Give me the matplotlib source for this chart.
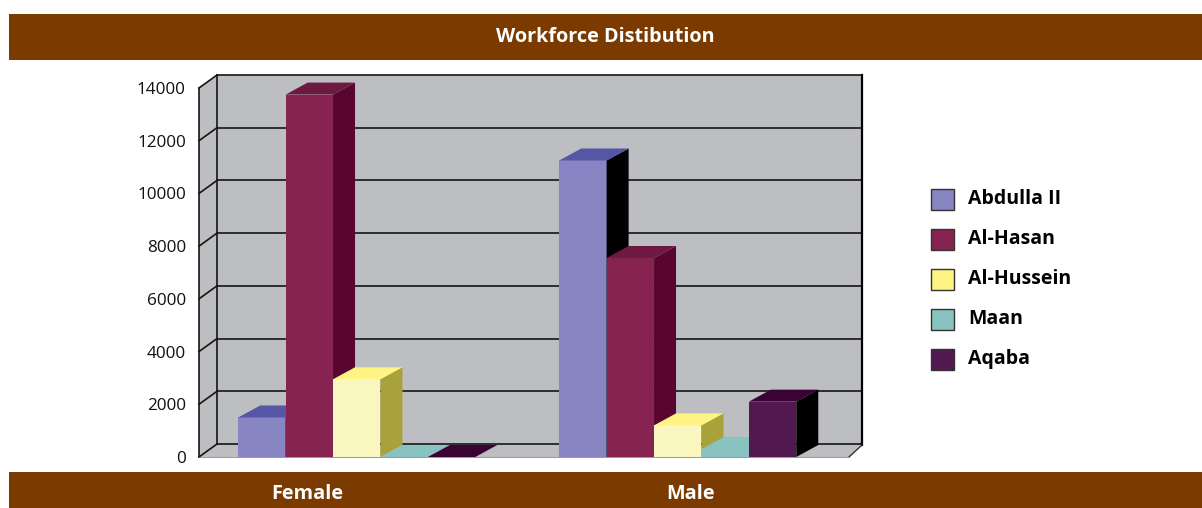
import matplotlib
matplotlib.use("Agg")
import matplotlib.pyplot as plt
from matplotlib.patches import Polygon, Rectangle
from matplotlib.lines import Line2D
import numpy as np

# ---------------- data ----------------
title = "Workforce Distibution"
categories = ["Female", "Male"]
series = ["Abdulla II", "Al-Hasan", "Al-Hussein", "Maan", "Aqaba"]
abdulla = [1500, 11250]
al_hasan = [13750, 7550]
al_hussein = [2950, 1200]
maan = [0, 300]
aqaba = [0, 2100]
values = [abdulla, al_hasan, al_hussein, maan, aqaba]
yticks = [0, 2000, 4000, 6000, 8000, 10000, 12000, 14000]

# ---------------- styles ----------------
front_c = ["#8786C2", "#872351", "#FAF6C0", "#88C2C1", "#521850"]
top_c = ["#5556A6", "#6E1941", "#FFF383", "#88C2C1", "#3A0334"]
side_c = ["#000000", "#58052F", "#A9A13A", "#88C2C1", "#000000"]
legend_c = ["#8786C2", "#872351", "#FFF383", "#88C2C1", "#521850"]
brown = "#7B3A00"
wall = "#BDBEC1"
font = "Open Sans"

W, H = 1202, 508
fig = plt.figure(figsize=(W / 100, H / 100), dpi=100)
fig.patch.set_facecolor("white")

def fy(y_img):
    return H - y_img

# axes = front plane of the 3D box
ax = fig.add_axes([199 / W, (H - 457) / H, 650 / W, 369 / H])
ax.set_xlim(-0.4914, 1.5335)
ax.set_ylim(0, 14000)
ax.patch.set_visible(False)
for s in ax.spines.values():
    s.set_visible(False)
ax.set_xticks([])
ax.set_yticks(yticks)
ax.set_yticklabels([str(t) for t in yticks], fontfamily=font, fontsize=12.3, color="#111111")
ax.tick_params(axis="y", length=0, pad=9.5)

bdx, bdy = 22, 12          # bar depth (px)
ldx, ldy = 18, 13          # wall depth at left
rdx, rdy = 13, 12          # wall depth at right

T = ax.transData
x0, x1 = ax.get_xlim()
fl = T.transform((x0, 0))
fr = T.transform((x1, 0))
tl = T.transform((x0, 14000))
bl = fl + [ldx, ldy]
br = fr + [rdx, rdy]
tbl = tl + [ldx, ldy]
tbr = np.array([br[0], tbl[1]])

def addpoly(pts, fc, z, ec="none", lw=0):
    p = Polygon(pts, closed=True, facecolor=fc, edgecolor=ec, linewidth=lw,
                transform=None, clip_on=False, zorder=z)
    ax.add_artist(p)

# walls and floor
addpoly([tbl, tbr, br, bl], wall, 1)
addpoly([tl, tbl, bl, fl], wall, 1)
addpoly([fl, fr, br, bl], wall, 1)

def addline(xs, ys, z=2, lw=1.2, c="#151515"):
    ax.add_artist(Line2D(xs, ys, transform=None, clip_on=False, color=c, lw=lw, zorder=z))

for t in yticks:
    p = T.transform((x0, t))
    q = p + [ldx, ldy]
    addline([p[0], q[0]], [p[1], q[1]])
    addline([q[0], br[0]], [q[1], q[1]])
addline([fl[0], tl[0]], [fl[1], tl[1]])
addline([bl[0], tbl[0]], [bl[1], tbl[1]])
addline([br[0], br[0]], [br[1], tbl[1]], lw=1.6, c="#000000")
addline([fr[0], br[0]], [fr[1], br[1]], lw=1.0, c="#333333")
addline([fl[0], fr[0]], [fl[1], fr[1]], lw=0.6, c="#888888")

# bars
bw = 0.1477
n = len(series)
for ci in range(len(categories)):
    for si in range(n):
        v = values[si][ci]
        xc = ci + (si - (n - 1) / 2) * bw
        z = 10 + si
        ax.bar([xc], [v], width=bw, color=front_c[si], edgecolor="none", zorder=z)
        a = T.transform((xc - bw / 2, v))
        b = T.transform((xc + bw / 2, v))
        c0 = T.transform((xc + bw / 2, 0))
        d = [bdx, bdy]
        addpoly([b, b + d, c0 + d, c0], side_c[si], z)
        addpoly([a, b, b + d, a + d], top_c[si], z)

# title bar and bottom bar
fig.add_artist(Rectangle((9 / W, fy(60) / H), (W - 9) / W, 46 / H, transform=fig.transFigure,
                         facecolor=brown, edgecolor="none"))
fig.add_artist(Rectangle((9 / W, 0), (W - 9) / W, fy(472) / H, transform=fig.transFigure,
                         facecolor=brown, edgecolor="none"))
fig.text(605 / W, fy(37) / H, title, ha="center", va="center", color="white",
         fontsize=14.3, fontweight="bold", fontfamily=font)
cat_x = [307, 691]
for lab, cx in zip(categories, cat_x):
    fig.text(cx / W, fy(494) / H, lab, ha="center", va="center", color="white",
             fontsize=14.3, fontweight="bold", fontfamily=font)

# legend
leg_y = [199, 239, 279, 319, 359]
for lab, col, ly in zip(series, legend_c, leg_y):
    fig.add_artist(Rectangle((931 / W, fy(ly + 11) / H), 23 / W, 21 / H, transform=fig.transFigure,
                             facecolor=col, edgecolor="#333333", linewidth=1.0))
    fig.text(968 / W, fy(ly) / H, lab, ha="left", va="center", color="#000000",
             fontsize=14, fontweight="bold", fontfamily=font)

fig.savefig("out.png", dpi=100)
